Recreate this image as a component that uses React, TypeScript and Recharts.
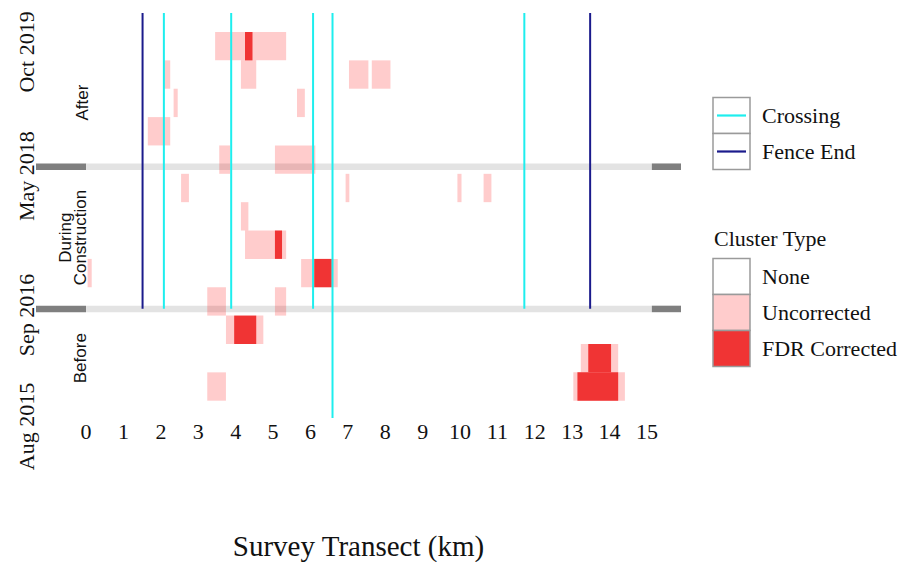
import React from 'react';
import { ComposedChart, XAxis, YAxis, ReferenceArea, ReferenceLine, ReferenceDot } from 'recharts';

// ---------- data ----------
const xTicks = [0, 1, 2, 3, 4, 5, 6, 7, 8, 9, 10, 11, 12, 13, 14, 15];
const dateLabels = ['Oct 2019', 'May 2018', 'Sep 2016', 'Aug 2015'];
const dateTickRows = [0.705, 5.08, 9.98, 13.91];

// survey row (0 = most recent), start km, end km
const uncorrectedClusters: [number, number, number][] = [
  [0, 3.45, 5.35],
  [1, 2.07, 2.25], [1, 4.14, 4.55], [1, 7.03, 7.55], [1, 7.64, 8.14],
  [2, 2.34, 2.45], [2, 5.64, 5.85],
  [3, 1.65, 2.25],
  [4, 3.56, 3.85], [4, 5.05, 6.13],
  [5, 2.54, 2.75], [5, 6.94, 7.04], [5, 9.93, 10.04], [5, 10.63, 10.84],
  [6, 4.14, 4.34],
  [7, 4.25, 5.35],
  [8, 0.04, 0.15], [8, 5.75, 6.73],
  [9, 3.24, 3.74], [9, 5.05, 5.35],
  [10, 3.74, 4.74],
  [11, 13.23, 14.23],
  [12, 3.24, 3.74], [12, 13.03, 14.41],
];
const fdrClusters: [number, number, number][] = [
  [0, 4.25, 4.45],
  [7, 5.05, 5.24],
  [8, 6.1, 6.57],
  [10, 3.96, 4.55],
  [11, 13.43, 14.04],
  [12, 13.14, 14.23],
];

const crossingKm = [2.08, 3.88, 6.07, 6.59, 11.72];
const crossingEndRow = [9.76, 9.76, 9.76, 13.61, 9.76];
const fenceEndKm = [1.51, 13.48];
const fenceEndRow = [9.76, 9.76];

const periodBoundaryRows = [4.75, 9.765];
const transectKm = [0, 15.13];

const periodLabels = ['After', 'During\nConstruction', 'Before'];
const periodRows = [2.49, 7.25, 11.5];
const periodKm = [-0.12, -0.36, -0.16];

const lineLegend = ['Crossing', 'Fence End'];
const clusterLegend = ['None', 'Uncorrected', 'FDR Corrected'];

// ---------- styling ----------
const X_DOMAIN: [number, number] = [-1.34, 15.91];
const Y_DOMAIN: [number, number] = [-0.67, 13.61];
const BAR_HALF = 0.115;
const SERIF = '"Liberation Serif", "Times New Roman", serif';
const SANS = '"Liberation Sans", Arial, sans-serif';
const CYAN = '#1EEEEE';
const NAVY = '#1B1B8C';
const RED = '#F03434';
const PINK_BASE = '#FF0000';
const LIGHT_GRAY = '#E3E3E3';
const DARK_GRAY = '#7F7F7F';
const TEXT = '#111111';

const DateTick = (props: any) => {
  const { x, y, index } = props;
  const label = dateLabels[index] ?? props.payload?.value;
  return (
    <text
      x={x}
      y={y}
      transform={`rotate(-90, ${x}, ${y})`}
      textAnchor="middle"
      dominantBaseline="central"
      fontFamily={SERIF}
      fontSize={22}
      fill={TEXT}
    >
      {label}
    </text>
  );
};

const renderPeriod = (text: string) => (p: any) => {
  const vb = p.viewBox || {};
  const cx = (vb.x ?? 0) + (vb.width ?? 0) / 2;
  const cy = (vb.y ?? 0) + (vb.height ?? 0) / 2;
  const lines = text.split('\n');
  return (
    <text
      transform={`rotate(-90, ${cx}, ${cy})`}
      x={cx}
      y={cy}
      textAnchor="middle"
      fontFamily={SANS}
      fontSize={17}
      fill={TEXT}
    >
      {lines.map((l, i) => (
        <tspan key={i} x={cx} dy={i === 0 ? `${-(lines.length - 1) * 0.45 + 0.35}em` : '0.9em'}>
          {l}
        </tspan>
      ))}
    </text>
  );
};

const Legend = () => {
  const bx = 713;
  const bw = 37;
  const lineTop = 97.5;
  const lh = 36;
  const clTop = 258.5;
  const ch = 36;
  const lineColors = [CYAN, NAVY];
  const fills = ['#FFFFFF', '#FFCCCC', RED];
  return (
    <svg width={912} height={562} style={{ position: 'absolute', left: 0, top: 0, pointerEvents: 'none' }}>
      {lineLegend.map((name, i) => (
        <g key={name}>
          <rect x={bx} y={lineTop + i * lh} width={bw} height={lh} fill="#fff" stroke="#9A9A9A" strokeWidth={1.5} />
          <line x1={bx + 4} x2={bx + bw - 4} y1={lineTop + i * lh + lh / 2} y2={lineTop + i * lh + lh / 2} stroke={lineColors[i]} strokeWidth={2.2} />
          <text x={762} y={lineTop + i * lh + lh / 2} dominantBaseline="central" fontFamily={SERIF} fontSize={22} fill={TEXT}>
            {name}
          </text>
        </g>
      ))}
      <text x={714} y={238} dominantBaseline="central" fontFamily={SERIF} fontSize={22} fill={TEXT}>
        Cluster Type
      </text>
      {clusterLegend.map((name, i) => (
        <g key={name}>
          <rect x={bx} y={clTop + i * ch} width={bw} height={ch} fill={fills[i]} stroke="#9A9A9A" strokeWidth={1.5} />
          <text x={762} y={clTop + i * ch + ch / 2} dominantBaseline="central" fontFamily={SERIF} fontSize={22} fill={TEXT}>
            {name}
          </text>
        </g>
      ))}
    </svg>
  );
};

export default function App() {
  return (
    <div style={{ position: 'absolute', left: 0, top: 0, width: 912, height: 562, background: '#fff' }}>
      <ComposedChart width={912} height={562} data={[]} margin={{ top: 13, right: 231, bottom: 0, left: 0 }}>
        <XAxis
          type="number"
          dataKey="x"
          domain={X_DOMAIN}
          allowDataOverflow
          ticks={xTicks}
          interval={0}
          axisLine={false}
          tickLine={false}
          tickSize={0}
          tickMargin={5}
          height={144}
          tick={{ fontFamily: SERIF, fontSize: 22, fill: TEXT }}
          label={{ value: 'Survey Transect (km)', position: 'insideBottom', offset: 6, style: { fontFamily: SERIF, fontSize: 29, fill: TEXT } }}
        />
        <YAxis
          type="number"
          dataKey="y"
          domain={Y_DOMAIN}
          allowDataOverflow
          reversed
          ticks={dateTickRows}
          interval={0}
          axisLine={false}
          tickLine={false}
          tickSize={0}
          tickMargin={9}
          width={36}
          tick={<DateTick />}
        />

        {periodBoundaryRows.map((r, i) => (
          <ReferenceArea key={`gd1-${i}`} x1={X_DOMAIN[0]} x2={transectKm[0]} y1={r - BAR_HALF} y2={r + BAR_HALF} fill={DARK_GRAY} fillOpacity={1} stroke="none" ifOverflow="visible" />
        ))}
        {periodBoundaryRows.map((r, i) => (
          <ReferenceArea key={`gl-${i}`} x1={transectKm[0]} x2={transectKm[1]} y1={r - BAR_HALF} y2={r + BAR_HALF} fill={LIGHT_GRAY} fillOpacity={1} stroke="none" ifOverflow="visible" />
        ))}
        {periodBoundaryRows.map((r, i) => (
          <ReferenceArea key={`gd2-${i}`} x1={transectKm[1]} x2={X_DOMAIN[1]} y1={r - BAR_HALF} y2={r + BAR_HALF} fill={DARK_GRAY} fillOpacity={1} stroke="none" ifOverflow="visible" />
        ))}

        {uncorrectedClusters.map(([row, s, e], i) => (
          <ReferenceArea key={`u-${i}`} x1={s} x2={e} y1={row} y2={row + 1} fill={PINK_BASE} fillOpacity={0.2} stroke="none" ifOverflow="visible" />
        ))}
        {fdrClusters.map(([row, s, e], i) => (
          <ReferenceArea key={`f-${i}`} x1={s} x2={e} y1={row} y2={row + 1} fill={RED} fillOpacity={1} stroke="none" ifOverflow="visible" />
        ))}

        {fenceEndKm.map((k, i) => (
          <ReferenceLine key={`fe-${i}`} segment={[{ x: k, y: Y_DOMAIN[0] }, { x: k, y: fenceEndRow[i] }]} stroke={NAVY} strokeWidth={2} ifOverflow="visible" />
        ))}
        {crossingKm.map((k, i) => (
          <ReferenceLine key={`c-${i}`} segment={[{ x: k, y: Y_DOMAIN[0] }, { x: k, y: crossingEndRow[i] }]} stroke={CYAN} strokeWidth={2} ifOverflow="visible" />
        ))}

        {periodLabels.map((t, i) => (
          <ReferenceDot key={`p-${i}`} x={periodKm[i]} y={periodRows[i]} r={0} fill="none" stroke="none" ifOverflow="visible" label={renderPeriod(t)} />
        ))}
      </ComposedChart>
      <Legend />
    </div>
  );
}
